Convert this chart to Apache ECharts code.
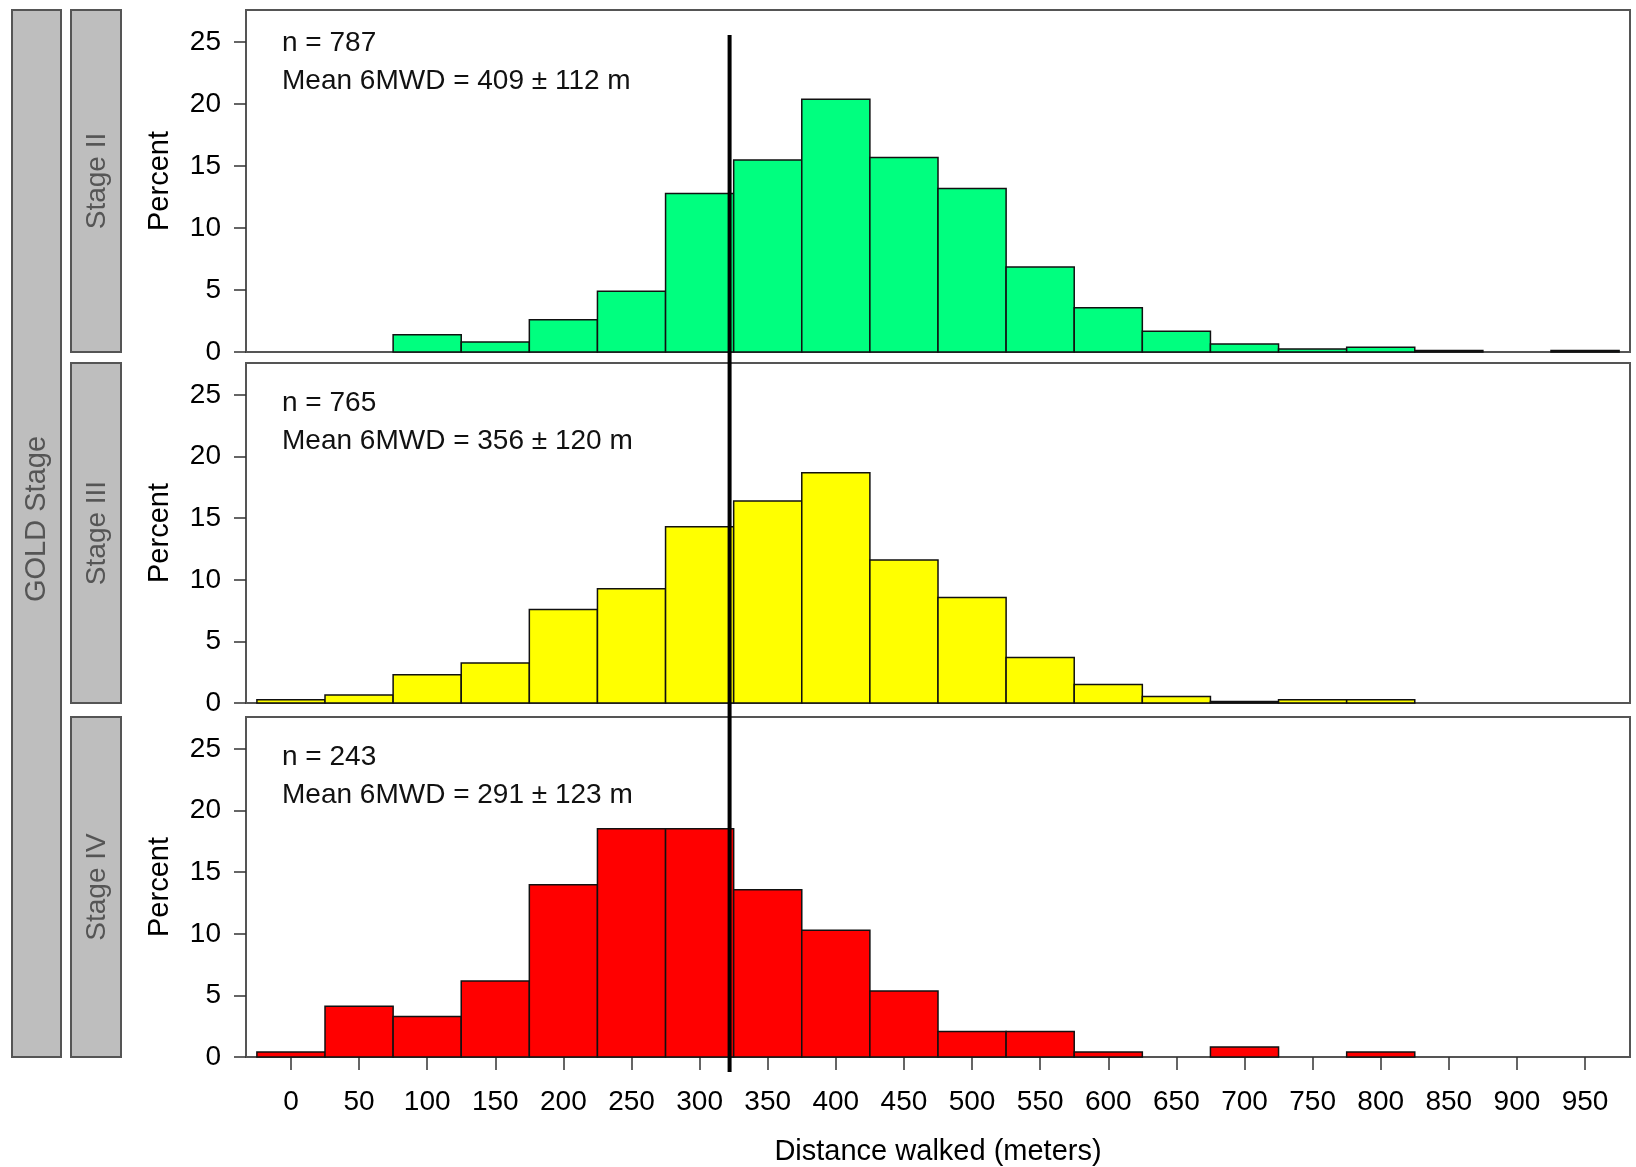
<!DOCTYPE html>
<html><head><meta charset="utf-8">
<script src="https://cdn.jsdelivr.net/npm/echarts@6/dist/echarts.min.js"></script>
<style>html,body{margin:0;padding:0;background:#fff}#c{width:1636px;height:1167px}</style>
</head><body><div id="c"></div>
<script>
// ---------- DATA ----------
const binCenters = [0,50,100,150,200,250,300,350,400,450,500,550,600,650,700,750,800,850,900,950];
const stageII  = [0,0,1.4,0.8,2.6,4.9,12.8,15.5,20.4,15.7,13.2,6.85,3.58,1.67,0.64,0.25,0.38,0.13,0,0.13];
const stageIII = [0.26,0.65,2.3,3.25,7.6,9.27,14.3,16.4,18.7,11.6,8.57,3.7,1.5,0.52,0.13,0.26,0.26,0,0,0];
const stageIV  = [0.41,4.12,3.29,6.17,13.99,18.52,18.52,13.58,10.29,5.35,2.06,2.06,0.41,0,0.82,0,0.41,0,0,0];
const panelNames = ['Stage II','Stage III','Stage IV'];
const nLabels = ['n = 787','n = 765','n = 243'];
const meanLabels = ['Mean 6MWD = 409 \u00b1 112 m','Mean 6MWD = 356 \u00b1 120 m','Mean 6MWD = 291 \u00b1 123 m'];
const xTicks = [0,50,100,150,200,250,300,350,400,450,500,550,600,650,700,750,800,850,900,950];
const yTicks = [0,5,10,15,20,25];
const refLine = 322;
const binWidth = 50;
const outerStripLabel = 'GOLD Stage';
const xTitle = 'Distance walked (meters)';
const yTitle = 'Percent';

// ---------- LAYOUT / STYLE ----------
const series = [stageII, stageIII, stageIV];
const colors = ['#00FF7F','#FFFF00','#FF0000'];
const FONT = '"Liberation Sans", Arial, Helvetica, sans-serif';
const gridLeft = 246, gridRight = 6;
const tops = [10, 363, 717];
const heights = [342, 340, 340];
const textOffsets = [[33, 71],[40, 78],[40, 78]];

const chart = echarts.init(document.getElementById('c'), null, {renderer:'canvas'});

function renderItem(params, api) {
  const c = api.value(0), v = api.value(1);
  if (!v) return null;
  const p0 = api.coord([c - binWidth/2, v]);
  const p1 = api.coord([c + binWidth/2, 0]);
  return {
    type: 'rect',
    shape: {x: p0[0], y: p0[1], width: p1[0]-p0[0], height: p1[1]-p0[1]},
    style: {fill: api.visual('color'), stroke: '#111', lineWidth: 1.5}
  };
}

const grids = [], xAxes = [], yAxes = [], sers = [], graphics = [];
for (let i = 0; i < 3; i++) {
  const last = i === 2;
  grids.push({left: gridLeft, right: gridRight, top: tops[i], height: heights[i],
    show: true, borderColor: '#555', borderWidth: 2, backgroundColor: '#fff'});
  xAxes.push({
    type: 'value', gridIndex: i, min: -33, max: 983,
    axisLine: {show: false, onZero: false}, splitLine: {show: false},
    axisTick: {show: last, length: 13, customValues: xTicks, lineStyle: {color: '#333', width: 1.5}},
    axisLabel: {show: last, customValues: xTicks, fontSize: 28, color: '#000', fontFamily: FONT, margin: 31},
    name: last ? xTitle : '', nameLocation: 'middle', nameGap: 80,
    nameTextStyle: {fontSize: 29, color: '#000', fontFamily: FONT}
  });
  yAxes.push({
    type: 'value', gridIndex: i, min: 0, max: 27.6,
    axisLine: {show: false, onZero: false}, splitLine: {show: false},
    axisTick: {show: true, length: 12, customValues: yTicks, lineStyle: {color: '#333', width: 1.5}},
    axisLabel: {customValues: yTicks, fontSize: 28, color: '#000', fontFamily: FONT, margin: 25},
    name: yTitle, nameLocation: 'middle', nameGap: 72, nameRotate: 90,
    nameTextStyle: {fontSize: 29, color: '#000', fontFamily: FONT}
  });
  sers.push({
    type: 'custom', xAxisIndex: i, yAxisIndex: i, renderItem: renderItem,
    itemStyle: {color: colors[i]},
    data: binCenters.map((c, k) => [c, series[i][k]]), z: 3
  });
  // inner strip
  graphics.push({type: 'rect', shape: {x: 71, y: tops[i], width: 50, height: heights[i]},
    style: {fill: '#BEBEBE', stroke: '#555', lineWidth: 2}});
  graphics.push({type: 'text', x: 97, y: tops[i] + heights[i]/2, rotation: Math.PI/2,
    style: {text: panelNames[i], fill: '#555', font: '28px ' + FONT, textAlign: 'center', textVerticalAlign: 'middle'}});
  // annotations
  graphics.push({type: 'text', x: 282, y: tops[i] + textOffsets[i][0],
    style: {text: nLabels[i], fill: '#111', font: '28px ' + FONT, textAlign: 'left', textVerticalAlign: 'middle'}, z: 10});
  graphics.push({type: 'text', x: 282, y: tops[i] + textOffsets[i][1],
    style: {text: meanLabels[i], fill: '#111', font: '28px ' + FONT, textAlign: 'left', textVerticalAlign: 'middle'}, z: 10});
}
// outer strip
graphics.push({type: 'rect', shape: {x: 12, y: tops[0], width: 49, height: tops[2] + heights[2] - tops[0]},
  style: {fill: '#BEBEBE', stroke: '#555', lineWidth: 2}});
graphics.push({type: 'text', x: 37, y: 519, rotation: Math.PI/2,
  style: {text: outerStripLabel, fill: '#555', font: '29px ' + FONT, textAlign: 'center', textVerticalAlign: 'middle'}});

chart.setOption({
  animation: false,
  backgroundColor: '#fff',
  grid: grids, xAxis: xAxes, yAxis: yAxes, series: sers,
  graphic: {elements: graphics}
});

// reference line through all panels
const px = chart.convertToPixel({xAxisIndex: 0}, refLine);
graphics.push({type: 'line', shape: {x1: px, y1: 35, x2: px, y2: tops[2] + heights[2] + 15},
  style: {stroke: '#000', lineWidth: 4}, z: 20});
chart.setOption({graphic: {elements: graphics}});
</script>
</body></html>
